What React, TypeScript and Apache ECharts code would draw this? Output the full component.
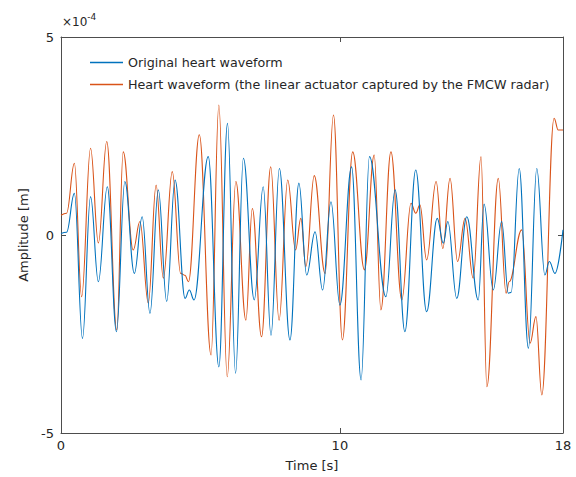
import React, { useEffect, useRef } from "react";
import * as echarts from "echarts";

// time [s], amplitude [x1e-4 m]
const originalWave: [number, number][] = [
  [0, 0.04], [0.2, 0.07], [0.48, 1.05], [0.77, -2.61], [1.06, 0.97], [1.34, -1.18],
  [1.66, 1.22], [1.99, -2.44], [2.29, 1.35], [2.63, -0.97], [2.91, 0.46], [3.19, -1.98],
  [3.49, 1.14], [3.79, -1.68], [4.09, 1.39], [4.45, -1.6], [4.6, -1.39], [4.77, -1.64],
  [5.28, 1.98], [5.66, -3.33], [5.97, 2.82], [6.26, -3.49], [6.54, 1.94], [6.93, -1.64],
  [7.25, 1.22], [7.53, -2.53], [7.83, 1.68], [8.21, -2.65], [8.53, 1.31], [8.81, -1.01],
  [9.11, 0.08], [9.38, -1.39], [9.68, 0.84], [10.0, -1.77], [10.42, 1.72], [10.76, -3.66],
  [11.06, 1.98], [11.65, -1.56], [11.98, 1.14], [12.33, -2.44], [12.72, 1.64], [13.11, -1.94],
  [13.49, 0.42], [13.71, -0.21], [13.87, 0.34], [14.19, -1.6], [14.55, 0.46], [14.96, -1.64],
  [15.17, 0.78], [15.5, -1.39], [15.8, 0.34], [16.04, -1.47], [16.14, -1.45], [16.43, 1.68],
  [16.76, -2.86], [17.06, 1.68], [17.35, -1.01], [17.51, -0.67], [17.71, -0.97], [18, 0.13],
];

const radarWave: [number, number][] = [
  [0, 0.5], [0.2, 0.55], [0.48, 1.81], [0.74, -1.56], [1.06, 2.19], [1.34, -0.2],
  [1.64, 2.36], [2.0, -2.4], [2.23, 2.1], [2.59, -0.38], [2.83, 0.34], [3.13, -1.72],
  [3.41, 1.26], [3.67, -1.09], [3.99, 1.6], [4.29, -0.97], [4.45, -1.02], [4.57, -1.18],
  [4.96, 2.53], [5.38, -3.03], [5.66, 3.28], [5.96, -3.58], [6.27, 1.35], [6.63, -2.15],
  [6.86, 0.67], [7.19, -2.57], [7.52, 1.72], [7.82, -2.15], [8.13, 1.39], [8.41, -0.38],
  [8.6, 0.42], [8.78, -0.8], [9.08, 1.5], [9.47, -0.97], [9.77, 3.03], [10.09, -2.65],
  [10.46, 2.1], [10.88, -0.88], [11.23, 2.02], [11.47, -1.89], [11.83, 2.1], [12.22, -1.64],
  [12.55, 0.8], [12.72, 0.55], [12.87, 0.76], [13.11, -0.63], [13.45, 1.35], [13.69, -0.34],
  [13.95, 1.43], [14.22, -0.67], [14.49, 0.42], [14.78, -1.09], [15.06, 1.98], [15.27, -3.83],
  [15.68, 1.43], [15.96, -1.47], [16.07, -1.18], [16.52, 0.13], [16.82, -2.73], [17.03, -2.06],
  [17.24, -4.04], [17.68, 2.95], [17.83, 2.65], [18, 2.65],
];

const seriesNames = [
  "Original heart waveform",
  "Heart waveform (the linear actuator captured by the FMCW radar)",
];
const xTicks = [0, 10, 18];
const yTicks = [-5, 0, 5];

const FONT = "'DejaVu Sans', 'Noto Sans', sans-serif";
const TXT = "#262626";
const AX = "#4d4d4d";

export default function App() {
  const ref = useRef<HTMLDivElement>(null);
  useEffect(() => {
    if (!ref.current) return;
    const chart = echarts.init(ref.current, null, { renderer: "svg" });
    const axisCommon = {
      axisLine: { show: true, onZero: false, lineStyle: { color: AX, width: 1 } },
      splitLine: { show: false },
    };
    chart.setOption({
      animation: false,
      backgroundColor: "#ffffff",
      textStyle: { fontFamily: FONT },
      grid: { left: 61, top: 37, width: 502, height: 396 },
      legend: {
        orient: "vertical",
        left: 90,
        top: 56,
        padding: 0,
        icon: "rect",
        itemWidth: 33,
        itemHeight: 1.5,
        itemGap: 9,
        data: seriesNames,
        textStyle: { fontSize: 12.7, color: TXT, fontFamily: FONT },
      },
      xAxis: [
        {
          ...axisCommon,
          type: "value",
          position: "bottom",
          min: 0,
          max: 18,
          name: "Time [s]",
          nameLocation: "middle",
          nameGap: 26,
          nameTextStyle: { fontSize: 13, color: TXT, fontFamily: FONT },
          axisTick: { show: true, inside: true, length: 5, customValues: xTicks, lineStyle: { color: AX } },
          axisLabel: { show: true, customValues: xTicks, fontSize: 13, color: TXT, margin: 6, fontFamily: FONT },
        },
        {
          ...axisCommon,
          type: "value",
          position: "top",
          min: 0,
          max: 18,
          axisTick: { show: true, inside: true, length: 5, customValues: xTicks, lineStyle: { color: AX } },
          axisLabel: { show: false },
        },
      ],
      yAxis: [
        {
          ...axisCommon,
          type: "value",
          position: "left",
          min: -5,
          max: 5,
          interval: 5,
          name: "Amplitude [m]",
          nameLocation: "middle",
          nameGap: 31,
          nameTextStyle: { fontSize: 13, color: TXT, fontFamily: FONT },
          axisTick: { show: true, inside: true, length: 5, customValues: yTicks, lineStyle: { color: AX } },
          axisLabel: { show: true, customValues: yTicks, fontSize: 13, color: TXT, margin: 7, fontFamily: FONT },
        },
        {
          ...axisCommon,
          type: "value",
          position: "right",
          min: -5,
          max: 5,
          interval: 5,
          axisTick: { show: true, inside: true, length: 5, customValues: yTicks, lineStyle: { color: AX } },
          axisLabel: { show: false },
        },
      ],
      graphic: [
        {
          type: "text",
          left: 62,
          top: 12,
          style: {
            text: "{a|×10}{b|-4}",
            rich: {
              a: { fontSize: 12, fill: TXT, fontFamily: FONT, verticalAlign: "bottom", lineHeight: 16 },
              b: { fontSize: 9, fill: TXT, fontFamily: FONT, verticalAlign: "top", lineHeight: 10 },
            },
          },
        },
      ],
      series: [
        {
          name: seriesNames[0],
          type: "line",
          data: originalWave,
          xAxisIndex: 0,
          yAxisIndex: 0,
          symbol: "none",
          showSymbol: false,
          smooth: 0.4,
          smoothMonotone: "x",
          lineStyle: { color: "#0072BD", width: 1.1 },
          itemStyle: { color: "#0072BD" },
          z: 3,
        },
        {
          name: seriesNames[1],
          type: "line",
          data: radarWave,
          xAxisIndex: 0,
          yAxisIndex: 0,
          symbol: "none",
          showSymbol: false,
          smooth: 0.4,
          smoothMonotone: "x",
          lineStyle: { color: "#D95319", width: 1.1 },
          itemStyle: { color: "#D95319" },
          z: 2,
        },
      ],
    });
    return () => chart.dispose();
  }, []);
  return (
    <div
      ref={ref}
      style={{ position: "fixed", left: 0, top: 0, width: 576, height: 477, background: "#fff" }}
    />
  );
}
